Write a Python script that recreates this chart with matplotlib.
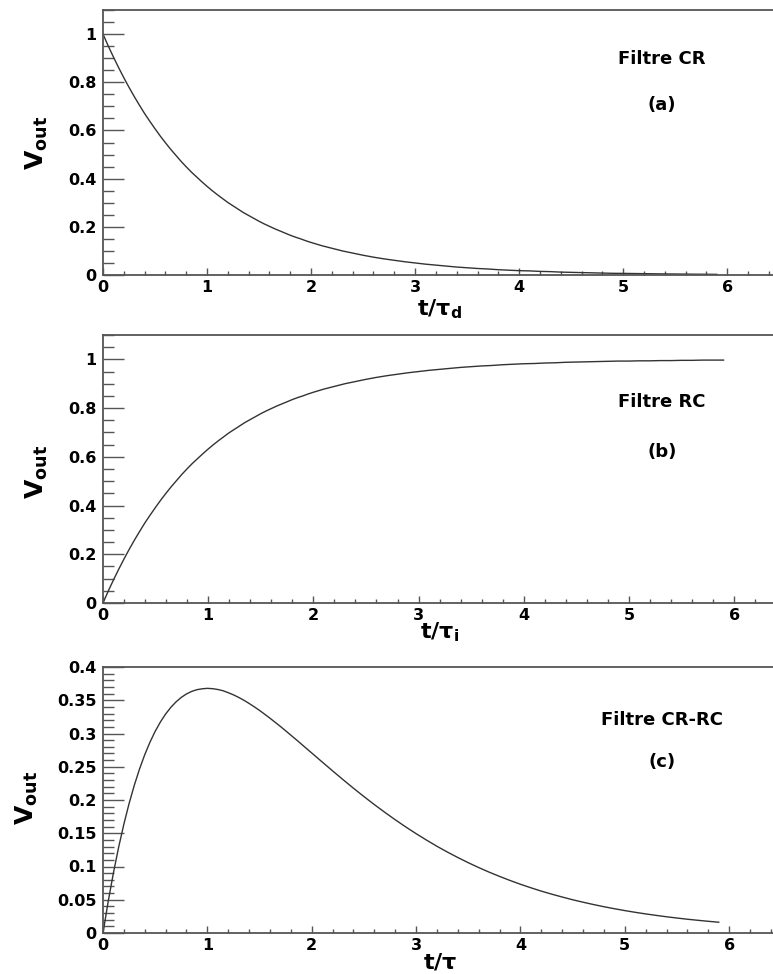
import matplotlib
matplotlib.use("Agg")
import matplotlib.pyplot as plt
from matplotlib.ticker import MultipleLocator, FuncFormatter

# Normalised time t/tau: finer sampling over the fast part of the responses
t_early = [round(0.05 * i, 2) for i in range(40)]        # 0 .. 1.95
t_late = [round(2.0 + 0.1 * i, 1) for i in range(40)]    # 2.0 .. 5.9
t = t_early + t_late

# (a) CR filter (differentiator) response to a step
v_cr = [1.000, 0.951, 0.905, 0.861, 0.819, 0.779, 0.741, 0.705, 0.670, 0.638,
        0.607, 0.577, 0.549, 0.522, 0.497, 0.472, 0.449, 0.427, 0.407, 0.387,
        0.368, 0.350, 0.333, 0.317, 0.301, 0.287, 0.273, 0.259, 0.247, 0.235,
        0.223, 0.212, 0.202, 0.192, 0.183, 0.174, 0.165, 0.157, 0.150, 0.142,
        0.135, 0.122, 0.111, 0.100, 0.091, 0.082, 0.074, 0.067, 0.061, 0.055,
        0.050, 0.045, 0.041, 0.037, 0.033, 0.030, 0.027, 0.025, 0.022, 0.020,
        0.018, 0.017, 0.015, 0.014, 0.012, 0.011, 0.010, 0.009, 0.008, 0.007,
        0.0067, 0.0061, 0.0055, 0.0050, 0.0045, 0.0041, 0.0037, 0.0033, 0.0030, 0.0027]

# (b) RC filter (integrator) response to a step
v_rc = [0.000, 0.049, 0.095, 0.139, 0.181, 0.221, 0.259, 0.295, 0.330, 0.362,
        0.393, 0.423, 0.451, 0.478, 0.503, 0.528, 0.551, 0.573, 0.593, 0.613,
        0.632, 0.650, 0.667, 0.683, 0.699, 0.713, 0.727, 0.741, 0.753, 0.765,
        0.777, 0.788, 0.798, 0.808, 0.817, 0.826, 0.835, 0.843, 0.850, 0.858,
        0.865, 0.878, 0.889, 0.900, 0.909, 0.918, 0.926, 0.933, 0.939, 0.945,
        0.950, 0.955, 0.959, 0.963, 0.967, 0.970, 0.973, 0.975, 0.978, 0.980,
        0.982, 0.983, 0.985, 0.986, 0.988, 0.989, 0.990, 0.991, 0.992, 0.993,
        0.993, 0.994, 0.994, 0.995, 0.995, 0.996, 0.996, 0.997, 0.997, 0.997]

# (c) CR-RC shaper response to a step
v_crrc = [0.0000, 0.0476, 0.0905, 0.1291, 0.1637, 0.1947, 0.2222, 0.2466, 0.2681, 0.2869,
          0.3033, 0.3173, 0.3293, 0.3393, 0.3476, 0.3543, 0.3595, 0.3633, 0.3659, 0.3672,
          0.3679, 0.3674, 0.3662, 0.3643, 0.3614, 0.3581, 0.3543, 0.3500, 0.3452, 0.3401,
          0.3347, 0.3289, 0.3230, 0.3168, 0.3106, 0.3041, 0.2975, 0.2909, 0.2842, 0.2774,
          0.2707, 0.2572, 0.2438, 0.2306, 0.2177, 0.2052, 0.1931, 0.1815, 0.1703, 0.1596,
          0.1494, 0.1397, 0.1304, 0.1217, 0.1135, 0.1057, 0.0984, 0.0915, 0.0851, 0.0790,
          0.0733, 0.0680, 0.0630, 0.0584, 0.0541, 0.0500, 0.0463, 0.0428, 0.0395, 0.0365,
          0.0337, 0.0311, 0.0287, 0.0265, 0.0244, 0.0225, 0.0207, 0.0191, 0.0176, 0.0162]

titles = ["Filtre CR", "Filtre RC", "Filtre CR-RC"]
tags = ["(a)", "(b)", "(c)"]
xlabels = [r"$\mathbf{t/\tau_{d}}$", r"$\mathbf{t/\tau_{i}}$", r"$\mathbf{t/\tau}$"]

plt.rcParams["mathtext.fontset"] = "dejavusans"
plt.rcParams["font.family"] = ["DejaVu Sans"]

W, H = 773, 974
fig = plt.figure(figsize=(W / 100, H / 100), dpi=100)


def fx(px):
    return px / W


def fy(py):
    return 1 - py / H


# axes boxes in pixels: left, top, bottom; right edge runs to the figure edge
boxes = [(103, 10, 275), (103, 335, 603), (103, 667, 933)]
xmax = [6.44, 6.37, 6.42]
ymax = [1.1, 1.1, 0.4]
ymajor = [0.2, 0.2, 0.05]
yminor = [0.05, 0.05, 0.01]
series = [v_cr, v_rc, v_crrc]
title_y = [(59, 105), (402, 452), (720, 762)]
xlabel_pos = [(440, 315), (440, 638), (440, 968)]
ylabel_pos = [(37, 143), (37, 472), (27, 798)]

spine_col = "#555555"
fmt = FuncFormatter(lambda v, p: "%g" % round(v, 3))

for i in range(3):
    l, top, bot = boxes[i]
    ax = fig.add_axes([fx(l), fy(bot), 1 - fx(l), (bot - top) / H])
    ax.plot(t, series[i], color="#333333", lw=1.0)
    ax.set_xlim(0, xmax[i])
    ax.set_ylim(0, ymax[i])
    ax.spines["right"].set_visible(False)
    for s in ("left", "bottom", "top"):
        ax.spines[s].set_color(spine_col)
        ax.spines[s].set_linewidth(1.3)
    ax.xaxis.set_major_locator(MultipleLocator(1))
    ax.xaxis.set_minor_locator(MultipleLocator(0.2))
    ax.yaxis.set_major_locator(MultipleLocator(ymajor[i]))
    ax.yaxis.set_minor_locator(MultipleLocator(yminor[i]))
    ax.xaxis.set_major_formatter(fmt)
    ax.yaxis.set_major_formatter(fmt)
    ax.tick_params(axis="x", which="major", direction="in", length=5, width=1,
                   color=spine_col, pad=3.5, labelsize=11.5)
    ax.tick_params(axis="x", which="minor", direction="in", length=3, width=1,
                   color=spine_col)
    ax.tick_params(axis="y", which="major", direction="in", length=15, width=1,
                   color=spine_col, pad=4.5, labelsize=11.5)
    ax.tick_params(axis="y", which="minor", direction="in", length=8, width=1,
                   color=spine_col)
    for lab in ax.get_xticklabels() + ax.get_yticklabels():
        lab.set_fontweight("bold")

    fig.text(fx(662), fy(title_y[i][0]), titles[i], ha="center", va="center",
             fontsize=13, fontweight="bold")
    fig.text(fx(662), fy(title_y[i][1]), tags[i], ha="center", va="center",
             fontsize=13, fontweight="bold")
    fig.text(fx(xlabel_pos[i][0]), fy(xlabel_pos[i][1]), xlabels[i],
             ha="center", va="baseline", fontsize=16)
    fig.text(fx(ylabel_pos[i][0]), fy(ylabel_pos[i][1]), r"$\mathbf{V_{out}}$",
             ha="center", va="center", rotation=90, fontsize=18)

fig.savefig("out.png", dpi=100)
